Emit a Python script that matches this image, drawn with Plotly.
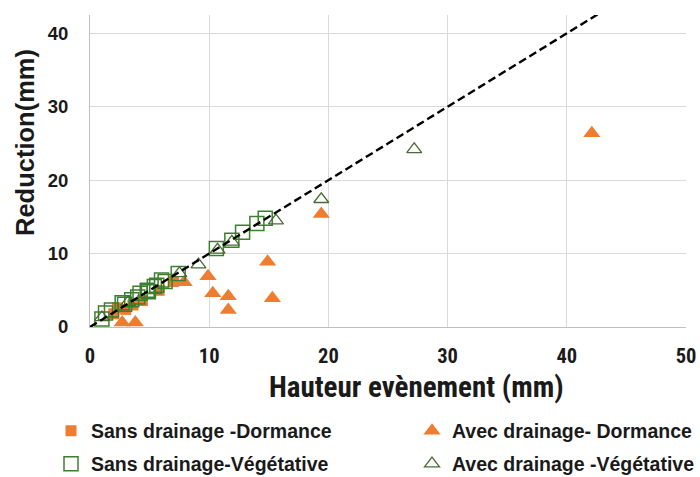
import plotly.graph_objects as go

# Sans drainage - Dormance (orange squares)
sd_dorm_x = [2.0, 2.3, 3.0, 3.6, 4.4, 5.8, 7.0]
sd_dorm_y = [1.8, 2.6, 2.4, 3.0, 3.6, 5.0, 6.2]

# Avec drainage - Dormance (orange triangles)
ad_dorm_x = [2.7, 3.8, 7.9, 9.9, 10.3, 11.6, 11.6, 14.9, 15.3, 19.4, 42.1]
ad_dorm_y = [0.6, 0.6, 6.1, 6.9, 4.6, 4.2, 2.3, 8.9, 3.9, 15.4, 26.4]

# Sans drainage - Végétative (green open squares)
sd_veg_x = [1.0, 1.3, 1.8, 2.7, 2.9, 3.5, 4.0, 4.2, 4.8, 4.9, 5.4, 5.6, 6.0, 6.3, 7.4, 10.6, 11.9, 12.8, 14.0, 14.7]
sd_veg_y = [1.1, 1.9, 2.3, 3.3, 3.1, 3.7, 4.1, 4.6, 5.0, 4.8, 5.5, 5.7, 6.4, 6.2, 7.3, 10.7, 11.8, 12.9, 14.1, 14.8]

# Avec drainage - Végétative (green open triangles)
ad_veg_x = [1.0, 3.2, 7.5, 9.1, 10.7, 11.9, 15.6, 19.4, 27.2]
ad_veg_y = [1.3, 3.4, 7.3, 8.5, 10.5, 11.6, 14.5, 17.4, 24.2]

# 1:1 line
line_x = [0, 50]
line_y = [0, 50]

x_ticks = [0, 10, 20, 30, 40, 50]
y_ticks = [0, 10, 20, 30, 40]

x_title = "Hauteur evènement (mm)"
y_title = "Reduction(mm)"

ORANGE = "#ED7D31"
GREEN_SQ = "#3C7F2E"
GREEN_TR = "#4A6B35"
TXT = "#1a1a1a"
NARROW = "Roboto Condensed, Arial Narrow, Liberation Sans Narrow"
SANS = "Liberation Sans, Arial"

W, H = 700, 477
ML, MR, MT, MB = 90, 14, 15, 150
PW, PH = W - ML - MR, H - MT - MB

fig = go.Figure()
fig.add_trace(go.Scatter(x=sd_dorm_x, y=sd_dorm_y, mode="markers",
                         name="Sans drainage -Dormance", legend="legend",
                         marker=dict(symbol="square", size=11, color=ORANGE)))
fig.add_trace(go.Scatter(x=ad_dorm_x, y=ad_dorm_y, mode="markers",
                         name="Avec drainage- Dormance", legend="legend2",
                         marker=dict(symbol="triangle-up", size=15, color=ORANGE)))
fig.add_trace(go.Scatter(x=sd_veg_x, y=sd_veg_y, mode="markers",
                         name="Sans drainage-Végétative", legend="legend3",
                         marker=dict(symbol="square-open", size=14, color=GREEN_SQ,
                                     line=dict(width=1.5))))
fig.add_trace(go.Scatter(x=ad_veg_x, y=ad_veg_y, mode="markers",
                         name="Avec drainage -Végétative", legend="legend4",
                         marker=dict(symbol="triangle-up-open", size=13, color=GREEN_TR,
                                     line=dict(width=1.3))))
fig.add_trace(go.Scatter(x=line_x, y=line_y, mode="lines", showlegend=False,
                         line=dict(color="black", width=2.4, dash="8px,4px"),
                         hoverinfo="skip"))

legend_common = dict(orientation="h", xref="container", yref="container",
                     xanchor="left", yanchor="middle",
                     font=dict(family=SANS, size=19.5, color=TXT, weight="bold"),
                     itemsizing="trace", bgcolor="rgba(0,0,0,0)")

col1_x, col2_x = 51 / W, 412 / W
row1_y, row2_y = (H - 431) / H, (H - 464) / H

fig.update_layout(
    width=W, height=H,
    margin=dict(l=ML, r=MR, t=MT, b=MB, autoexpand=False),
    paper_bgcolor="white", plot_bgcolor="white",
    font=dict(family=SANS, color=TXT),
    legend=dict(legend_common, x=col1_x, y=row1_y),
    legend2=dict(legend_common, x=col2_x, y=row1_y),
    legend3=dict(legend_common, x=col1_x, y=row2_y),
    legend4=dict(legend_common, x=col2_x, y=row2_y),
    xaxis=dict(range=[0, 50], tickvals=x_ticks, showgrid=True, gridcolor="#d9d9d9",
               gridwidth=1, zeroline=False, showline=True, linecolor="#bfbfbf",
               tickfont=dict(size=20.5, weight="bold", color=TXT, family=NARROW),
               ticklabelstandoff=10),
    yaxis=dict(range=[0, 42.5], tickvals=y_ticks, showgrid=True, gridcolor="#d9d9d9",
               gridwidth=1, zeroline=False, showline=True, linecolor="#bfbfbf",
               tickfont=dict(size=18.5, weight="bold", color=TXT, family=SANS),
               ticklabelstandoff=17),
    annotations=[
        dict(text=x_title, xref="paper", yref="paper",
             x=(416 - ML) / PW, y=(MT + PH - 387) / PH,
             xanchor="center", yanchor="middle", showarrow=False,
             font=dict(family=NARROW, size=29, weight="bold", color=TXT)),
        dict(text=y_title, xref="paper", yref="paper", textangle=-90,
             x=(25 - ML) / PW, y=(MT + PH - 143) / PH,
             xanchor="center", yanchor="middle", showarrow=False,
             font=dict(family=SANS, size=25.5, weight="bold", color=TXT)),
    ],
)

fig.write_html("out.html", config={"displayModeBar": False},
               post_script="document.body.style.margin='0px';")
